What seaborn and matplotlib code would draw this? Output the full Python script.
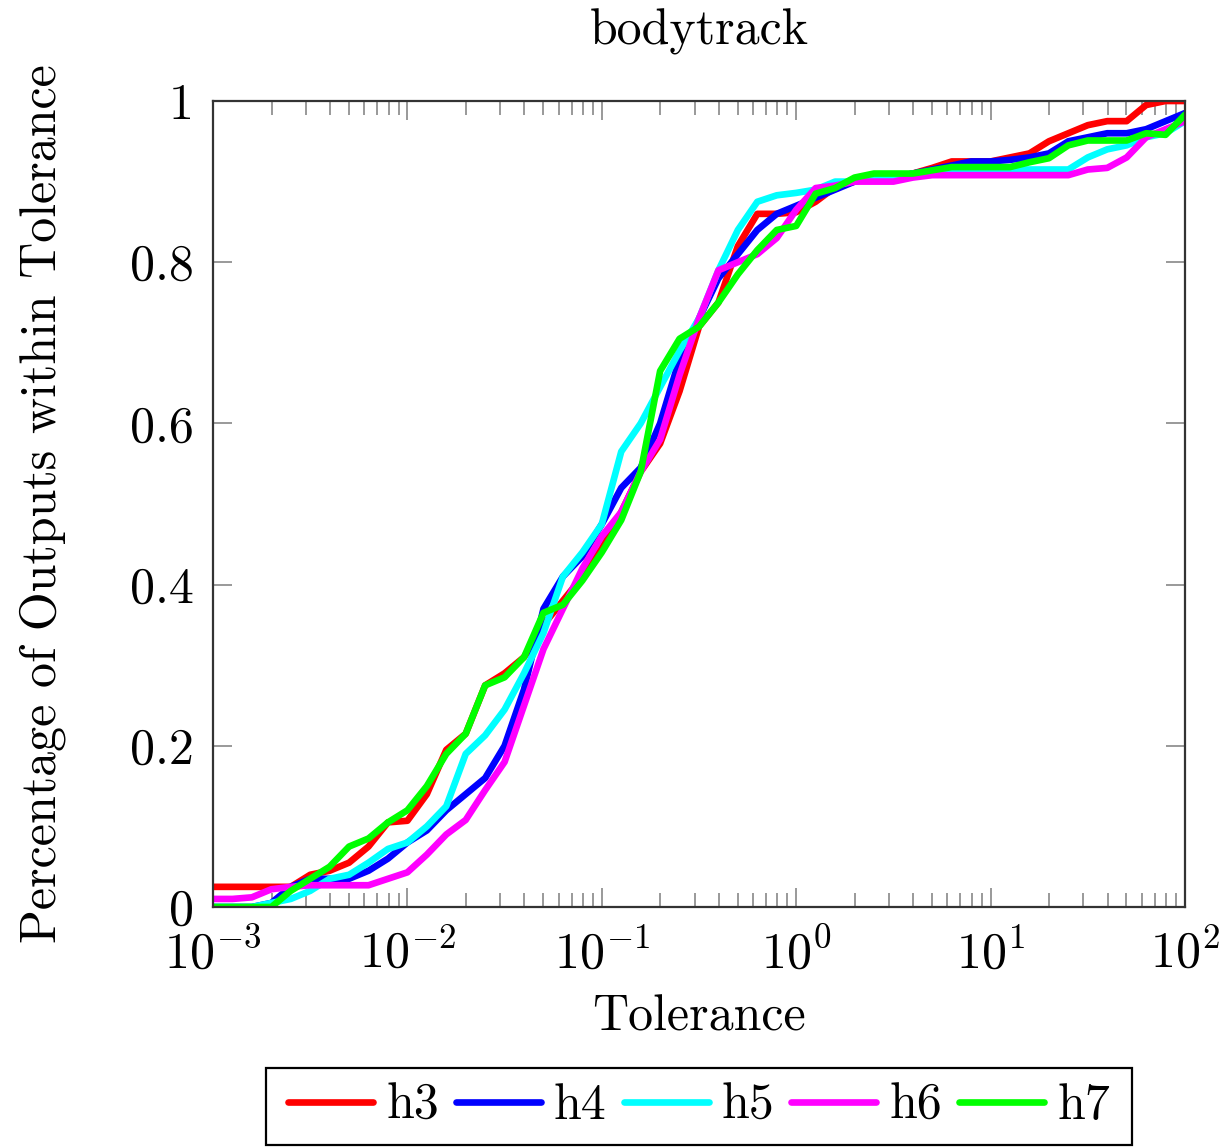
import numpy as np
import pandas as pd
import matplotlib
matplotlib.use("Agg")
import matplotlib.pyplot as plt
import seaborn as sns
from matplotlib.patches import Rectangle
from matplotlib.ticker import LogLocator, NullFormatter

# tolerance grid: 10 samples per decade, 1e-3 .. 1e2
tol_exp = list(range(-30, 21))

h3 = [0.025, 0.025, 0.025, 0.025, 0.025, 0.04, 0.045, 0.055, 0.075, 0.105,
      0.107, 0.14, 0.195, 0.215, 0.275, 0.29, 0.31, 0.35, 0.38, 0.41,
      0.445, 0.49, 0.54, 0.575, 0.64, 0.72, 0.75, 0.82, 0.86, 0.86,
      0.862, 0.875, 0.893, 0.9, 0.905, 0.905, 0.91, 0.917, 0.925, 0.925,
      0.925, 0.93, 0.935, 0.95, 0.96, 0.97, 0.975, 0.975, 0.995, 1.0, 1.0]
h4 = [0.0, 0.0, 0.0, 0.005, 0.025, 0.035, 0.035, 0.035, 0.045, 0.06,
      0.08, 0.095, 0.12, 0.14, 0.16, 0.2, 0.27, 0.37, 0.41, 0.435,
      0.475, 0.52, 0.545, 0.6, 0.68, 0.73, 0.78, 0.81, 0.84, 0.86,
      0.87, 0.88, 0.89, 0.9, 0.905, 0.905, 0.91, 0.915, 0.92, 0.925,
      0.925, 0.927, 0.93, 0.935, 0.95, 0.955, 0.96, 0.96, 0.965, 0.975, 0.985]
h5 = [0.0, 0.0, 0.0, 0.005, 0.01, 0.02, 0.035, 0.04, 0.055, 0.072,
      0.08, 0.1, 0.125, 0.19, 0.213, 0.245, 0.29, 0.34, 0.41, 0.44,
      0.475, 0.565, 0.6, 0.645, 0.69, 0.73, 0.79, 0.84, 0.875, 0.883,
      0.886, 0.89, 0.9, 0.9, 0.905, 0.905, 0.91, 0.912, 0.915, 0.915,
      0.915, 0.915, 0.915, 0.915, 0.915, 0.93, 0.94, 0.945, 0.955, 0.96, 0.975]
h6 = [0.01, 0.01, 0.012, 0.022, 0.025, 0.027, 0.027, 0.027, 0.027, 0.035,
      0.043, 0.065, 0.09, 0.108, 0.145, 0.18, 0.25, 0.32, 0.37, 0.42,
      0.46, 0.49, 0.54, 0.58, 0.66, 0.73, 0.79, 0.8, 0.81, 0.83,
      0.865, 0.892, 0.895, 0.9, 0.9, 0.9, 0.905, 0.908, 0.908, 0.908,
      0.908, 0.908, 0.908, 0.908, 0.908, 0.915, 0.917, 0.93, 0.955, 0.965, 0.975]
h7 = [0.0, 0.0, 0.0, 0.0, 0.02, 0.035, 0.05, 0.075, 0.085, 0.105,
      0.12, 0.15, 0.19, 0.215, 0.275, 0.285, 0.31, 0.365, 0.375, 0.405,
      0.44, 0.48, 0.54, 0.665, 0.705, 0.72, 0.75, 0.785, 0.815, 0.84,
      0.845, 0.885, 0.892, 0.905, 0.91, 0.91, 0.91, 0.914, 0.918, 0.918,
      0.918, 0.918, 0.924, 0.929, 0.945, 0.951, 0.951, 0.951, 0.96, 0.958, 0.983]

series = {"h3": h3, "h4": h4, "h5": h5, "h6": h6, "h7": h7}
colors = {"h3": "#ff0000", "h4": "#0000ff", "h5": "#00ffff",
          "h6": "#ff00ff", "h7": "#00ff00"}

tol = [10 ** (e / 10) for e in tol_exp]
df = pd.concat([pd.DataFrame({"Tolerance": tol, "value": v, "heuristic": k})
                for k, v in series.items()], ignore_index=True)

sns.set_style("ticks")
plt.rcParams["font.family"] = ["cmr10", "DejaVu Serif"]
plt.rcParams["mathtext.fontset"] = "cm"
plt.rcParams["axes.unicode_minus"] = False
plt.rcParams["axes.formatter.use_mathtext"] = True
plt.rcParams["text.color"] = "black"
plt.rcParams["axes.labelcolor"] = "black"
plt.rcParams["xtick.labelcolor"] = "black"
plt.rcParams["ytick.labelcolor"] = "black"

FS = 36

fig = plt.figure(figsize=(12.21, 11.48), dpi=100)
ax = fig.add_axes([213 / 1221, 1 - 907 / 1148, 972 / 1221, 806 / 1148])

sns.lineplot(data=df, x="Tolerance", y="value", hue="heuristic",
             palette=colors, linewidth=4.8, ax=ax)

ax.set_xscale("log")
ax.set_xlim(1e-3, 1e2)
ax.set_ylim(0, 1)
ax.set_xticks([1e-3, 1e-2, 1e-1, 1e0, 1e1, 1e2])
ax.set_xticklabels([r"$10^{-3}$", r"$10^{-2}$", r"$10^{-1}$",
                    r"$10^{0}$", r"$10^{1}$", r"$10^{2}$"])
ax.xaxis.set_minor_locator(LogLocator(base=10, subs=np.arange(2, 10)))
ax.xaxis.set_minor_formatter(NullFormatter())
ax.set_yticks([0, 0.2, 0.4, 0.6, 0.8, 1.0])
ax.set_yticklabels(["0", "0.2", "0.4", "0.6", "0.8", "1"])

ax.tick_params(which="major", direction="in", length=14, width=1.2,
               color="#888888", top=True, right=True, labelsize=FS, pad=14)
ax.tick_params(axis="x", which="major", pad=16)
ax.tick_params(which="minor", direction="in", length=10, width=1.2,
               color="#888888", top=True, right=True)
for s in ax.spines.values():
    s.set_color("#333333")
    s.set_linewidth(1.6)

ax.set_title("bodytrack", fontsize=FS, pad=41)
ax.set_xlabel("Tolerance", fontsize=FS, labelpad=12)
ax.set_ylabel("Percentage of Outputs within Tolerance", fontsize=FS, labelpad=46)

leg = ax.legend(loc="center", bbox_to_anchor=(0.5, -0.247), ncol=5,
                fontsize=FS, frameon=False, handlelength=1.7,
                columnspacing=0.34, handletextpad=0.26, borderpad=0,
                borderaxespad=0)

# square black frame around the legend, like the pgfplots box
fig.canvas.draw()
bb = leg.get_window_extent()
H = fig.get_figheight() * fig.dpi
W = fig.get_figwidth() * fig.dpi
padx, boxh = 22, 77
cy = (bb.y0 + bb.y1) / 2
fig.patches.append(Rectangle(((bb.x0 - padx) / W, (cy - boxh / 2) / H),
                             (bb.width + 2 * padx) / W, boxh / H,
                             transform=fig.transFigure, fill=False,
                             edgecolor="black", linewidth=1.6))

fig.savefig("out.png", dpi=100)
